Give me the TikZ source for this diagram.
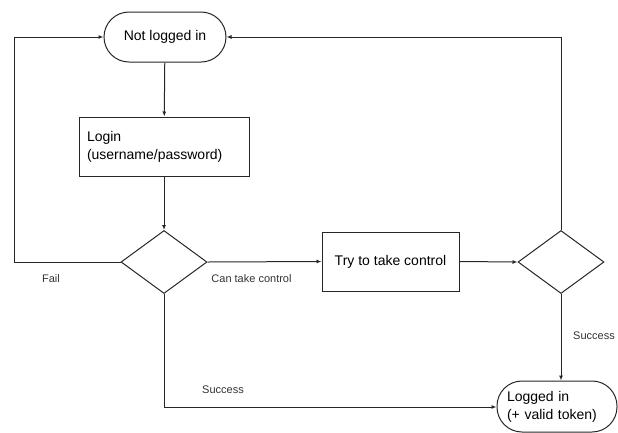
\documentclass[tikz,border=0pt]{standalone}
\usepackage{fontspec}
\setmainfont{Liberation Sans}
\usetikzlibrary{shapes.geometric,arrows.meta}
\begin{document}
\begin{tikzpicture}[x=1pt,y=-1pt,
  line/.style={draw=black!85,line width=1pt},
  arr/.style={line,-{Latex[length=5pt,width=4pt]}},
  stadium/.style={line,rounded corners=25pt,minimum width=122pt,minimum height=50pt,font=\fontsize{14}{18}\selectfont},
  rectbox/.style={line,minimum height=59pt,font=\fontsize{14}{18}\selectfont},
  decision/.style={line,diamond,minimum width=86pt,minimum height=63pt,inner sep=0pt},
  lbl/.style={font=\fontsize{11}{13}\selectfont,text=black!80}]
\useasboundingbox (0,0) rectangle (618,432);
\node[stadium] (nli) at (165,37) {Not logged in};
\node[rectbox,minimum width=170pt,align=left,text width=154pt] (login) at (164,146.5) {Login\\(username/password)};
\node[decision,aspect=1.365] (d1) at (164,262) {};
\node[rectbox,minimum width=137pt] (try) at (390.5,261.5) {Try to take control};
\node[decision,aspect=1.4] (d2) at (561,262) {};
\node[stadium,minimum width=120pt,minimum height=51pt,align=left,text width=100pt] (li) at (557,406.5) {Logged in\\(+ valid token)};
\coordinate (fl) at (14,262);
\coordinate (ft) at (14,37);
\coordinate (rt) at (561,37);
\coordinate (sb) at (164,407);
\draw[arr] (nli) -- (login);
\draw[arr] (login) -- (d1.north);
\draw[arr] (d1.west) -- (fl) -- (ft) -- (nli.west);
\draw[arr] (d1.east) -- (try.west);
\draw[arr] (try.east) -- (d2.west);
\draw[arr] (d2.north) -- (rt) -- (nli.east);
\draw[arr] (d2.south) -- (d2.south |- li.north);
\draw[arr] (d1.south) -- (sb) -- (sb -| li.west);
\node[lbl] (lfail) at (51,279) {Fail};
\node[lbl] (lctc) at (251.5,279) {Can take control};
\node[lbl] (ls1) at (223,390) {Success};
\node[lbl] (ls2) at (594,336) {Success};
\end{tikzpicture}
\end{document}
